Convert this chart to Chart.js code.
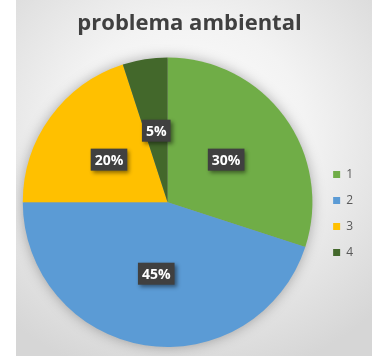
<!DOCTYPE html>
<html>
<head>
<meta charset="utf-8">
<script src="https://cdn.jsdelivr.net/npm/chart.js@4.4.1/dist/chart.umd.min.js"></script>
<style>
  html, body { margin: 0; padding: 0; background: #fff; }
  #wrap {
    position: absolute; left: 16px; top: 0; width: 356px; height: 356px;
    background: radial-gradient(ellipse 75% 70% at 48% 38%, #ffffff 0%, #f3f3f3 45%, #d6d6d6 100%);
  }
</style>
</head>
<body>
<div id="wrap"><canvas id="chart" width="356" height="356"></canvas></div>
<script>
// problema ambiental - pie
const categories = ["1", "2", "3", "4"];
const shares = [30, 45, 20, 5];
const colors = ["#70ad47", "#5b9bd5", "#ffc000", "#43682b"];

// soft shadow under the whole pie
const pieShadow = {
    id: "pieShadow",
    beforeDatasetsDraw(chart) {
        const arc = chart.getDatasetMeta(0).data[0];
        if (!arc) return;
        const ctx = chart.ctx;
        ctx.save();
        ctx.shadowColor = "rgba(0,0,0,0.35)";
        ctx.shadowBlur = 14;
        ctx.fillStyle = "#999";
        ctx.beginPath();
        ctx.arc(arc.x, arc.y, arc.outerRadius - 1, 0, Math.PI * 2);
        ctx.fill();
        ctx.restore();
    }
};

// dark boxed percentage labels
const pctLabels = {
    id: "pctLabels",
    afterDatasetsDraw(chart) {
        const ctx = chart.ctx;
        const meta = chart.getDatasetMeta(0);
        const total = shares.reduce((a, b) => a + b, 0);
        ctx.save();
        ctx.font = "bold 14px 'Open Sans'";
        ctx.textAlign = "center";
        ctx.textBaseline = "middle";
        meta.data.forEach((arc, i) => {
            const p = arc.tooltipPosition();
            const txt = Math.round(shares[i] / total * 100) + "%";
            const w = ctx.measureText(txt).width + 8;
            const h = 22;
            ctx.save();
            ctx.shadowColor = "rgba(0,0,0,0.45)";
            ctx.shadowBlur = 4;
            ctx.shadowOffsetX = 2;
            ctx.shadowOffsetY = 2;
            ctx.fillStyle = "#404040";
            ctx.fillRect(p.x - w / 2, p.y - h / 2, w, h);
            ctx.restore();
            ctx.fillStyle = "#ffffff";
            ctx.fillText(txt, p.x, p.y + 1);
        });
        ctx.restore();
    }
};

const chart = new Chart(document.getElementById("chart"), {
    type: "pie",
    data: {
        labels: categories,
        datasets: [{
            data: shares,
            backgroundColor: colors,
            borderWidth: 0
        }]
    },
    options: {
        responsive: false,
        animation: false,
        layout: { padding: { left: 0, right: 9, top: 0, bottom: 9 } },
        plugins: {
            title: {
                display: true,
                text: "problema ambiental",
                color: "#404040",
                font: { family: "'Open Sans'", size: 22, weight: "bold" },
                padding: { top: 11, bottom: 20 }
            },
            legend: {
                position: "right",
                align: "start",
                title: { display: true, text: "", padding: { top: 140, bottom: 0 } },
                labels: {
                    boxWidth: 7,
                    boxHeight: 7,
                    padding: 14,
                    color: "#595959",
                    font: { family: "'Open Sans'", size: 12 }
                }
            },
            tooltip: { enabled: false }
        }
    },
    plugins: [pieShadow, pctLabels]
});
</script>
</body>
</html>
